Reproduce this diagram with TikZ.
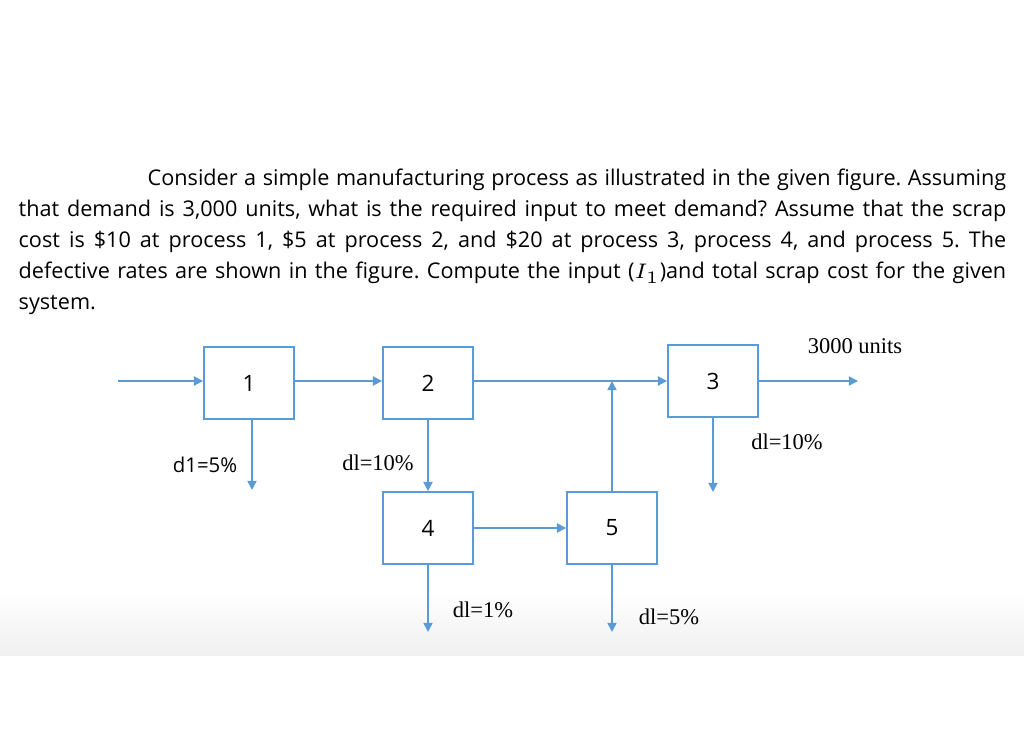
\documentclass[tikz,border=0pt]{standalone}
\usepackage{fontspec}
\setmainfont{Open Sans}
\newfontfamily\serf{Liberation Serif}
\usetikzlibrary{arrows.meta}
\definecolor{bl}{HTML}{5B9BD5}
\begin{document}
\frenchspacing
\begin{tikzpicture}[x=0.01cm,y=-0.01cm,
  box/.style={draw=bl,line width=0.5pt,minimum width=0.9cm,minimum height=0.72cm,font=\fontsize{6.4}{7}\selectfont},
  arr/.style={draw=bl,line width=0.45pt,-{Triangle[length=2.6pt,width=2.6pt]}},
  par/.style={anchor=base west,inner sep=0,font=\fontsize{6.15}{7}\selectfont},
  lab/.style={inner sep=0,font=\serf\fontsize{6.4}{7}\selectfont}]
\useasboundingbox (0,0) rectangle (1024,731);
\shade[top color=white,bottom color=black!6] (0,590) rectangle (1024,656);
\node[par] (l1) at (147,186) {\makebox[8.58cm][s]{Consider a simple manufacturing process as illustrated in the given figure. Assuming}};
\node[par] (l2) at (18,217) {\makebox[9.87cm][s]{that demand is 3,000 units, what is the required input to meet demand? Assume that the scrap}};
\node[par] (l3) at (18,248) {\makebox[9.87cm][s]{cost is \$10 at process 1, \$5 at process 2, and \$20 at process 3, process 4, and process 5. The}};
\node[par] (l4) at (18,279) {\makebox[9.87cm][s]{defective rates are shown in the figure. Compute the input ($I_1$)and total scrap cost for the given}};
\node[par] (l5) at (18,310) {system.};
\node[box] (b1) at (249,383) {1};
\node[box] (b2) at (428,383) {2};
\node[box] (b3) at (713,381) {3};
\node[box] (b4) at (428,528) {4};
\node[box] (b5) at (612,528) {5};
\coordinate (in) at (118,381);
\coordinate (out) at (858,381);
\coordinate (j) at (612,381);
\coordinate (d1) at (252,490);
\coordinate (d3) at (713,492);
\coordinate (d4) at (428,632);
\coordinate (d5) at (612,632);
\draw[arr] (in) -- (b1.west|-in);
\draw[arr] (b1.east|-in) -- (b2.west|-in);
\draw[arr] (b2.east|-in) -- (b3.west|-in);
\draw[arr] (b3.east|-out) -- (out);
\draw[arr] (b5.north) -- (j);
\draw[arr] (d1|-b1.south) -- (d1);
\draw[arr] (b2.south) -- (b4.north);
\draw[arr] (b4.east) -- (b5.west);
\draw[arr] (b3.south) -- (d3);
\draw[arr] (b4.south) -- (d4);
\draw[arr] (b5.south) -- (d5);
\node[inner sep=0,font=\fontsize{5.8}{7}\selectfont] (t1) at (205,465) {d1=5\%};
\node[lab] (t2) at (378,463) {dl=10\%};
\node[lab] (t3) at (855,346) {3000 units};
\node[lab] (t4) at (787,442) {dl=10\%};
\node[lab] (t5) at (483,610) {dl=1\%};
\node[lab] (t6) at (669,617) {dl=5\%};
\end{tikzpicture}
\end{document}
